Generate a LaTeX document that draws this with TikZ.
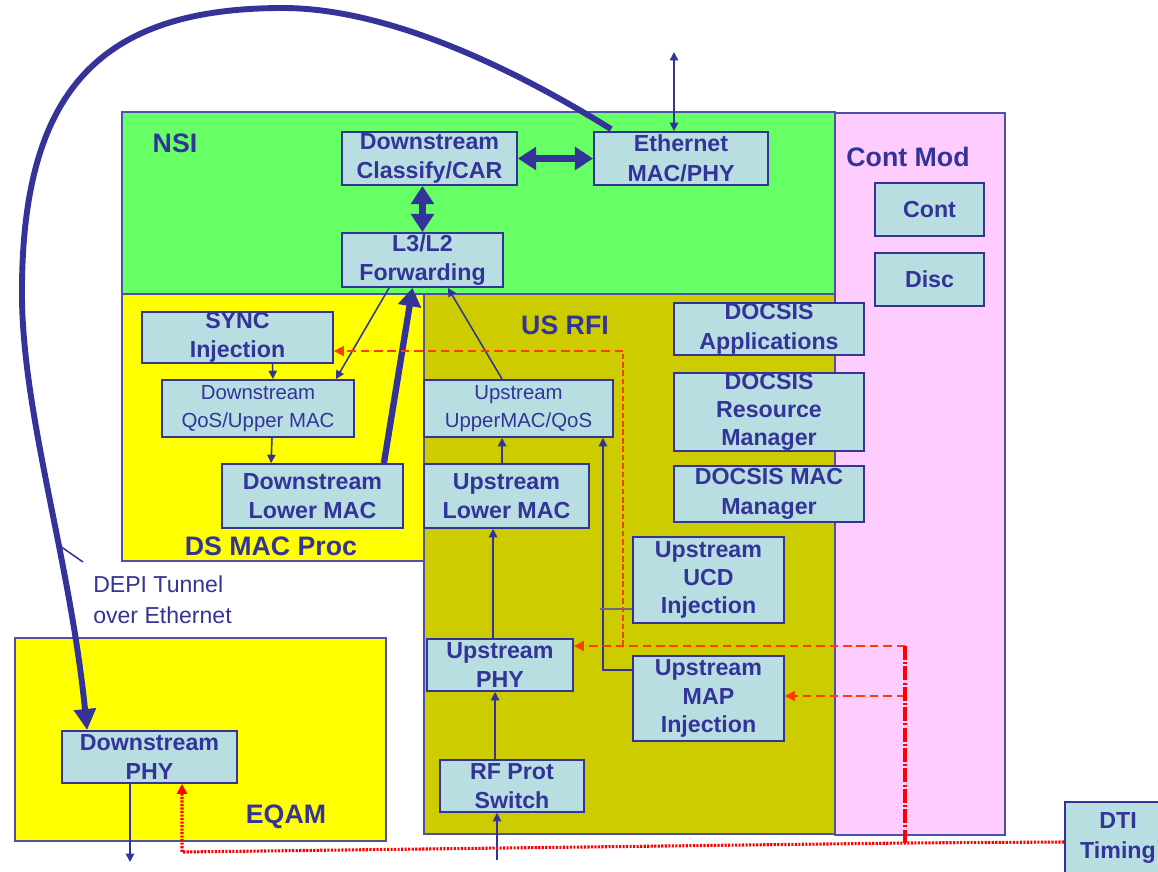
\documentclass[tikz,border=0pt]{standalone}
\usepackage{fontspec}
\setmainfont{Liberation Sans}
\usepackage{tikz}
\usetikzlibrary{positioning,arrows.meta}

\definecolor{inkblue}{RGB}{51,51,153}
\definecolor{edgeblue}{RGB}{80,80,170}
\definecolor{nsigreen}{RGB}{102,255,102}
\definecolor{dsyellow}{RGB}{255,255,0}
\definecolor{usolive}{RGB}{204,204,0}
\definecolor{cmpink}{RGB}{255,204,255}
\definecolor{boxblue}{RGB}{185,222,225}
\definecolor{syncred}{RGB}{255,60,0}
\definecolor{dtired}{RGB}{255,0,0}

\newcommand{\pxu}{0.025cm}

\begin{document}
\begin{tikzpicture}[
  x=0.025cm, y=-0.025cm,
  region/.style n args={3}{draw=edgeblue,line width=0.9pt,fill=#3,
    minimum width=#1*\pxu,minimum height=#2*\pxu,inner sep=0pt},
  blk/.style n args={2}{draw=inkblue,line width=1.3pt,fill=boxblue,text=inkblue,
    font=\bfseries\fontsize{16.5}{21}\selectfont,align=center,
    minimum width=#1*\pxu,minimum height=#2*\pxu,inner sep=0pt},
  lite/.style={font=\fontsize{14.5}{20}\selectfont},
  tri/.style={font=\bfseries\fontsize{16.5}{20}\selectfont},
  ttl/.style={text=inkblue,font=\bfseries\fontsize{19}{23}\selectfont,inner sep=0pt},
  depilbl/.style={text=inkblue,font=\fontsize{16.4}{22}\selectfont,align=left,inner sep=0pt},
  tunnel/.style={line width=4.2pt,inkblue,-{Triangle[length=15pt,width=15pt]}},
  fatdbl/.style={line width=4.5pt,inkblue,
    {Triangle[length=13pt,width=16pt]}-{Triangle[length=13pt,width=16pt]}},
  fatarr/.style={line width=4.5pt,inkblue,-{Triangle[length=13pt,width=16pt]}},
  thinarr/.style={line width=1.1pt,inkblue,-{Triangle[length=6pt,width=6pt]}},
  thindbl/.style={line width=1.1pt,inkblue,
    {Triangle[length=6pt,width=6pt]}-{Triangle[length=6pt,width=6pt]}},
  thinln/.style={line width=1.1pt,inkblue},
  ucdln/.style={line width=1.1pt,gray!70!inkblue},
  tdash/.style={line width=1.4pt,syncred,dash pattern=on 6pt off 3.5pt,
    -{Triangle[length=7pt,width=7pt]}},
  tfine/.style={line width=1pt,syncred,dash pattern=on 4pt off 2pt},
  tmain/.style={line width=2.6pt,dtired,dash pattern=on 10pt off 1.5pt on 1.5pt off 1.5pt},
  tdot/.style={line width=2.2pt,dtired,dash pattern=on 1.5pt off 1pt,
    -{Triangle[length=7pt,width=7pt]}}
]
  \useasboundingbox (0,0) rectangle (1158,871);

  % ---------- blocks of the CMTS / EQAM ----------
  \node[region={170}{722}{cmpink}]   (cmod)  at (920,474)     {};
  \node[region={713}{182}{nsigreen}] (nsi)   at (478.5,203)   {};
  \node[region={302}{267}{dsyellow}] (dsmac) at (273,427.5)   {};
  \node[region={411}{540}{usolive}]  (usrfi) at (629.5,564)   {};
  \node[region={371}{203}{dsyellow}] (eqam)  at (200.5,739.5) {};

  \node[ttl] (nsilbl)   at (175,143) {NSI};
  \node[ttl] (cmodlbl)  at (908,157) {Cont Mod};
  \node[ttl] (usrfilbl) at (565,325) {US RFI};
  \node[ttl] (dsmaclbl) at (271,546) {DS MAC Proc};
  \node[ttl] (eqamlbl)  at (286,817) {EQAM};

  % ---------- functions ----------
  \node[blk={175}{53}]      (dscls) at (429.5,158.5) {Downstream\\Classify/CAR};
  \node[blk={174}{53}]      (eth)   at (681,158.5)   {Ethernet\\MAC/PHY};
  \node[blk={161}{54}]      (fwd)   at (422.5,260)   {L3/L2\\Forwarding};
  \node[blk={109}{53}]      (cont)  at (929.5,209.5) {Cont};
  \node[blk={109}{53}]      (disc)  at (929.5,279.5) {Disc};
  \node[blk={191}{51}]      (sync)  at (237.5,337.5) {SYNC\\Injection};
  \node[blk={192}{57},lite] (dsqos) at (258,408.5)   {Downstream\\QoS/Upper MAC};
  \node[blk={181}{64}]      (dslow) at (312.5,496)   {Downstream\\Lower MAC};
  \node[blk={189}{57},lite] (usqos) at (518.5,408.5) {Upstream\\UpperMAC/QoS};
  \node[blk={165}{64}]      (uslow) at (506.5,496)   {Upstream\\Lower MAC};
  \node[blk={190}{52}]      (dapp)  at (769,329)     {DOCSIS\\Applications};
  \node[blk={190}{78},tri]  (drm)   at (769,412)     {DOCSIS\\Resource\\Manager};
  \node[blk={190}{56}]      (dmac)  at (769,494)     {DOCSIS MAC\\Manager};
  \node[blk={151}{86},tri]  (ucd)   at (708.5,580)   {Upstream\\UCD\\Injection};
  \node[blk={146}{52}]      (usphy) at (500,665)     {Upstream\\PHY};
  \node[blk={151}{85},tri]  (map)   at (708.5,698.5) {Upstream\\MAP\\Injection};
  \node[blk={144}{52}]      (rfsw)  at (512,786)     {RF Prot\\Switch};
  \node[blk={175}{52}]      (dsphy) at (149.5,757)   {Downstream\\PHY};
  \node[blk={106}{72}]      (dti)   at (1118,838)    {DTI\\Timing};

  % ---------- DEPI tunnel ----------
  \draw[tunnel] ([shift={(18,-2)}]eth.north west)
    .. controls (500,60) and (380,8) .. (283,8)
    .. controls (100,8) and (20,90) .. (22,300)
    .. controls (24,420) and (70,560) .. ([shift={(26,0)}]dsphy.north west);
  \coordinate (tickA) at (60,546);
  \coordinate (tickB) at (83,562);
  \draw[thinln] (tickA) -- (tickB);
  \node[depilbl,anchor=west] (depi) at (93,600) {DEPI Tunnel\\over Ethernet};

  % ---------- data paths ----------
  \draw[fatdbl] (dscls.east) -- (eth.west);
  \draw[fatdbl] (fwd.north) -- (fwd.north |- dscls.south);
  \coordinate (wan) at (674,52);
  \draw[thindbl] (wan) -- (wan |- eth.north);
  \draw[thinarr] ([shift={(48,0)}]fwd.south west) -- ([shift={(-19,0)}]dsqos.north east);
  \draw[fatarr] ([shift={(-20,0)}]dslow.north east) -- ([shift={(-10,0)}]fwd.south);
  \draw[thinarr] ([shift={(79,0)}]usqos.north west) -- ([shift={(-56,0)}]fwd.south east);
  \draw[thinarr] ([shift={(35,0)}]sync.south) -- ([shift={(15,0)}]dsqos.north);
  \draw[thinarr] ([shift={(14,0)}]dsqos.south) -- ([shift={(50,0)}]dslow.north west);
  \draw[thinarr] ([shift={(79,0)}]uslow.north west) -- ([shift={(79,0)}]usqos.south west);
  \draw[thinarr] ([shift={(67,0)}]usphy.north west) -- ([shift={(70,0)}]uslow.south west);
  \draw[thinarr] ([shift={(56,0)}]rfsw.north west) -- ([shift={(69,0)}]usphy.south west);
  \coordinate (rfin) at (497,860);
  \draw[thinarr] (rfin) -- (rfin |- rfsw.south);
  \coordinate (dsout) at (130,862);
  \draw[thinarr] (dsout |- dsphy.south) -- (dsout);
  \draw[thinarr] ([shift={(0,15)}]map.north west) -| ([shift={(-11,0)}]usqos.south east);
  \draw[ucdln] ([shift={(0,-15)}]ucd.south west) -- ++(-32,0);

  % ---------- timing ----------
  \coordinate (tjoin) at (905,646);
  \coordinate (tmapy) at (905,696);
  \coordinate (tbot)  at (905,843);
  \coordinate (tturn) at (623,646);
  \coordinate (ttop)  at (623,351);
  \coordinate (tdsl)  at (182,852);
  \draw[tdash] (tjoin) -- (tjoin -| usphy.east);
  \draw[tdash] (tmapy) -- (tmapy -| map.east);
  \draw[tfine] (tturn) -- (ttop);
  \draw[tdash] (ttop) -- (ttop -| sync.east);
  \draw[tmain] (tjoin) -- (tbot);
  \draw[tdot] ([shift={(0,4)}]dti.west) -- (tbot) -- (tdsl) -- (tdsl |- dsphy.south);
\end{tikzpicture}
\end{document}
